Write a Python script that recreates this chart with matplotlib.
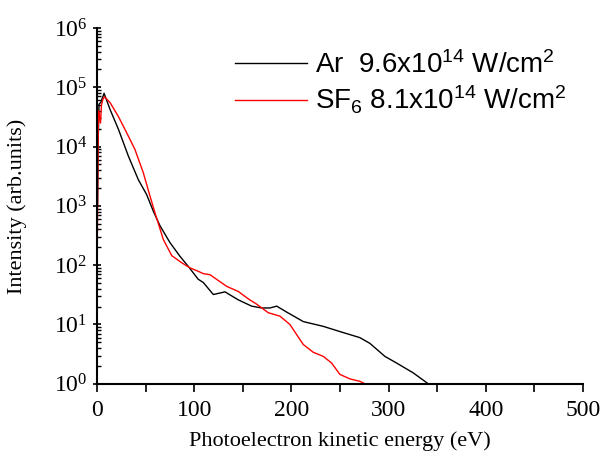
import matplotlib
matplotlib.use("Agg")
import matplotlib.pyplot as plt
from matplotlib.ticker import LogLocator, MultipleLocator, NullFormatter

# Ar, 9.6x10^14 W/cm^2
ar_energy = [0.5, 1, 2, 4, 5, 7.2, 13.4, 22, 32.2, 42.5, 51, 57.9, 64.8, 75, 85.3,
             93.9, 104, 109.3, 119.6, 131.6, 145.3, 159, 169.3, 177.9, 184.8, 195,
             212.1, 232.7, 249.8, 270.4, 280.7, 296.1, 308.1, 325.2, 340.7]
ar_counts = [1000, 1e4, 5.2e4, 5.6e4, 6.3e4, 7.9e4, 4.2e4, 1.95e4, 6900, 2750, 1550,
             810, 460, 240, 141, 95, 58, 51, 32, 35.5, 26, 20.4, 19, 19, 20.4, 16.2,
             11.2, 9.3, 7.6, 6.0, 4.8, 2.9, 2.24, 1.53, 1.0]

# SF6, 8.1x10^14 W/cm^2
sf6_energy = [0, 0.5, 1, 1.5, 2.5, 3.5, 4.5, 6, 7.5, 10, 13.4, 22, 30.5, 39, 47.6,
              54.5, 59.6, 68.2, 76.8, 87, 95.6, 104, 109.3, 116.2, 133.3, 145.3,
              155.6, 164.2, 176.1, 188.2, 198.4, 212.1, 222.4, 232.7, 241.3, 249.8,
              260.1, 270.4, 275.6]
sf6_counts = [58, 1000, 1e4, 4e4, 3.2e4, 2.5e4, 5e4, 6.3e4, 6.9e4, 6.3e4, 5.5e4,
              3.2e4, 1.7e4, 8900, 3600, 1450, 760, 270, 145, 110, 90, 79, 72, 69,
              44, 36, 27, 22, 15.8, 13.8, 10, 4.6, 3.4, 2.9, 2.24, 1.44, 1.21, 1.1, 1.0]

y_major = [1e0, 1e1, 1e2, 1e3, 1e4, 1e5, 1e6]

labels = [r"Ar  9.6x10$\mathdefault{^{14}}$ W/cm$\mathdefault{^{2}}$",
          r"SF$\mathdefault{_{6}}$ 8.1x10$\mathdefault{^{14}}$ W/cm$\mathdefault{^{2}}$"]

serif = "Liberation Serif"

fig = plt.figure(figsize=(6.03, 4.51), dpi=100)
ax = fig.add_axes([0.161, 0.149, 0.806, 0.789])

ax.plot(ar_energy, ar_counts, color="black", lw=1.0, label=labels[0])
ax.plot(sf6_energy, sf6_counts, color="red", lw=1.0, label=labels[1])

ax.set_yscale("log")
ax.set_xlim(0, 500)
ax.set_ylim(1, 1e6)

ax.spines["top"].set_visible(False)
ax.spines["right"].set_visible(False)
ax.spines["left"].set_linewidth(1.5)
ax.spines["bottom"].set_linewidth(1.5)

ax.xaxis.set_major_locator(MultipleLocator(100))
ax.xaxis.set_minor_locator(MultipleLocator(50))
ax.set_yticks(y_major)
ax.yaxis.set_minor_locator(LogLocator(base=10, subs=range(2, 10), numticks=20))
ax.yaxis.set_minor_formatter(NullFormatter())

ax.tick_params(axis="x", which="major", direction="out", length=6, width=1.2, pad=6)
ax.tick_params(axis="x", which="minor", direction="out", length=6, width=1.2)
ax.tick_params(axis="y", which="major", direction="inout", length=6, width=1.2, pad=4)
ax.tick_params(axis="y", which="minor", direction="in", length=3, width=1.0)

for lab in ax.get_xticklabels() + ax.get_yticklabels():
    lab.set_fontfamily(serif)
    lab.set_fontsize(17)

ax.set_xlabel("Photoelectron kinetic energy (eV)", fontfamily=serif, fontsize=16, labelpad=7)
ax.set_ylabel("Intensity (arb.units)", fontfamily=serif, fontsize=16, labelpad=19)

ax.legend(loc="upper left", bbox_to_anchor=(0.26, 0.967), frameon=False,
          prop={"family": "Liberation Sans", "size": 20}, handlelength=2.6,
          handletextpad=0.3, labelspacing=0.2, borderaxespad=0)

fig.savefig("out.png", dpi=100)
